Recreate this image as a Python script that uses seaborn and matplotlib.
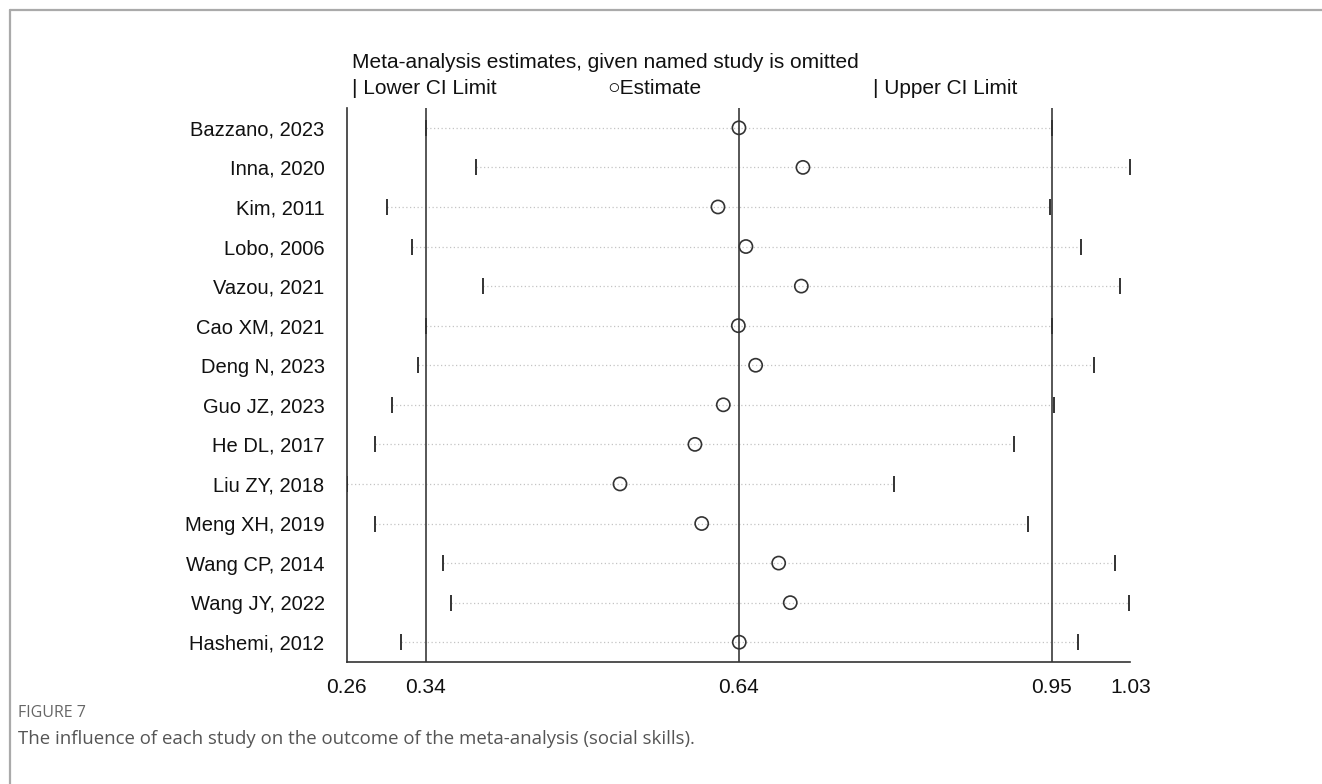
import numpy as np
import pandas as pd
import seaborn as sns
from matplotlib import pyplot as plt
from matplotlib.lines import Line2D

studies = ["Bazzano, 2023", "Inna, 2020", "Kim, 2011", "Lobo, 2006", "Vazou, 2021",
           "Cao XM, 2021", "Deng N, 2023", "Guo JZ, 2023", "He DL, 2017", "Liu ZY, 2018",
           "Meng XH, 2019", "Wang CP, 2014", "Wang JY, 2022", "Hashemi, 2012"]
estimate = [0.6446, 0.7071, 0.6241, 0.6514, 0.7055, 0.6440, 0.6609,
            0.6293, 0.6016, 0.5284, 0.6082, 0.6834, 0.6947, 0.6449]
lower = [0.3389, 0.3874, 0.3005, 0.3249, 0.3948, 0.3388, 0.3308,
         0.3057, 0.2893, 0.2615, 0.2893, 0.3552, 0.3630, 0.3144]
upper = [0.9501, 1.0270, 0.9484, 0.9784, 1.0168, 0.9502, 0.9914,
         0.9523, 0.9135, 0.7957, 0.9272, 1.0119, 1.0260, 0.9760]

# overall estimate with all studies
overall_est = 0.6443
overall_lo = 0.3389
overall_hi = 0.9500

df = pd.DataFrame({"Study": studies, "Estimate": estimate, "Lower": lower, "Upper": upper})

sns.set_style("white")
plt.rcParams["font.family"] = ["Liberation Sans", "DejaVu Sans"]

fig = plt.figure(figsize=(13.22, 7.84), dpi=100)
ax = fig.add_axes([0.2623, 0.1556, 0.5928, 0.7066])

dark = "#333333"
ax.hlines(df["Study"], df["Lower"], df["Upper"], colors="#c4c4c4", linestyles=(0, (1, 2)), lw=0.9, zorder=1)
for v in [overall_lo, overall_est, overall_hi]:
    ax.axvline(v, color="#3a3a3a", lw=1.2, zorder=2)

sns.scatterplot(data=df, x="Lower", y="Study", marker="|", s=130, color=dark, linewidth=1.4, ax=ax, zorder=3)
sns.scatterplot(data=df, x="Upper", y="Study", marker="|", s=130, color=dark, linewidth=1.4, ax=ax, zorder=3)
sns.scatterplot(data=df, x="Estimate", y="Study", marker="o", s=90, facecolor="none",
                edgecolor=dark, linewidth=1.2, ax=ax, zorder=4)

ax.set_ylim(len(studies) - 0.5, -0.5)
ax.set_xlim(min(lower), max(upper))
ticks = [min(lower), overall_lo, overall_est, overall_hi, max(upper)]
ax.set_xticks(ticks)
ax.set_xticklabels(["%.2f" % t for t in ticks])
ax.set_xlabel("")
ax.set_ylabel("")

for side in ["top", "right"]:
    ax.spines[side].set_visible(False)
for side in ["left", "bottom"]:
    ax.spines[side].set_color(dark)
    ax.spines[side].set_linewidth(1.2)

ax.tick_params(axis="x", direction="out", length=7.5, width=1.2, color=dark, pad=4, labelsize=15, labelcolor="#111111")
ax.tick_params(axis="y", length=0, pad=16, labelsize=14.5, labelcolor="#111111")

# header / legend
fig.text(0.2663, 0.920, "Meta-analysis estimates, given named study is omitted", fontsize=15,
         color="#111111", va="center")
fig.text(0.2663, 0.887, "| Lower CI Limit", fontsize=15, color="#111111", va="center")
fig.text(0.459, 0.887, "\u25cbEstimate", fontsize=15, color="#111111", va="center")
fig.text(0.660, 0.887, "| Upper CI Limit", fontsize=15, color="#111111", va="center")

# caption
fig.text(0.0136, 0.090, "FIGURE 7", fontsize=11.5, color="#666666", va="center", family=["Open Sans", "DejaVu Sans"])
fig.text(0.0136, 0.057, "The influence of each study on the outcome of the meta-analysis (social skills).",
         fontsize=13.4, color="#555555", va="center", family=["Open Sans", "DejaVu Sans"])

# page frame
fig.add_artist(Line2D([0.0076, 1.0], [0.987, 0.987], transform=fig.transFigure, color="#aaaaaa", lw=1.6))
fig.add_artist(Line2D([0.0076, 0.0076], [0.0, 0.987], transform=fig.transFigure, color="#aaaaaa", lw=1.6))

fig.savefig("out.png", dpi=100)
